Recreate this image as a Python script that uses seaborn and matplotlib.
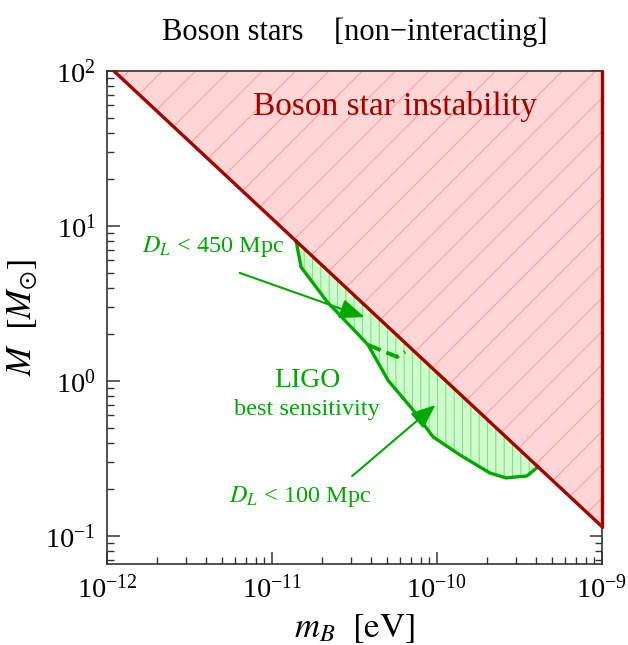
import numpy as np
import pandas as pd
import matplotlib
matplotlib.use('Agg')
import matplotlib.pyplot as plt
import seaborn as sns

# boson star stability boundary (M_max ~ 1/m_B)
line_mB = [1.1e-12, 1e-9]
line_M = [100, 0.115]
region_mB = [1.1e-12, 1e-9, 1e-9]
region_M = [100, 0.115, 100]

# LIGO best-sensitivity contour (D_L < 100 Mpc)
ligo_mB = [1.40e-11, 1.50e-11, 2.16e-11, 3.67e-11, 3.82e-11, 5.05e-11, 7.16e-11,
           9.46e-11, 1.38e-10, 2.09e-10, 2.62e-10, 3.51e-10, 4.09e-10]
ligo_M = [8.0, 5.43, 3.24, 1.79, 1.71, 1.01, 0.65, 0.436, 0.333, 0.255, 0.237, 0.244, 0.279]

# D_L < 450 Mpc dashed piece
dash_mB = [3.82e-11, 5.73e-11, 6.40e-11]
dash_M = [1.71, 1.43, 1.54]

sns.set_theme(style='ticks')
plt.rcParams['font.family'] = ['Liberation Serif', 'DejaVu Serif']
plt.rcParams['mathtext.fontset'] = 'stix'
plt.rcParams['hatch.linewidth'] = 0.8
plt.rcParams['text.color'] = 'black'
plt.rcParams['axes.labelcolor'] = 'black'

red = '#A50000'
green = '#00A800'

fig = plt.figure(figsize=(6.28, 6.45), dpi=100)
ax = fig.add_axes([0.1704, 0.1256, 0.7882, 0.7644])
ax.set_xscale('log')
ax.set_yscale('log')

# instability region
ax.fill(region_mB, region_M, facecolor='#FFD6D6', edgecolor='#FF9E9E', hatch='/', linewidth=0, zorder=1)
# LIGO region
ax.fill(ligo_mB, ligo_M, facecolor='#CCFFCC', edgecolor='#8FD88F', hatch='||', linewidth=0, zorder=1)

df_line = pd.DataFrame({'mB': line_mB, 'M': line_M})
sns.lineplot(data=df_line, x='mB', y='M', color=red, lw=2.4, sort=False, estimator=None, ax=ax, zorder=4)
ax.plot([1e-9, 1e-9], [line_M[1], 100], color=red, lw=2.4, clip_on=False, zorder=4)

df_ligo = pd.DataFrame({'mB': ligo_mB, 'M': ligo_M})
sns.lineplot(data=df_ligo, x='mB', y='M', color=green, lw=2.4, sort=False, estimator=None, ax=ax, zorder=3)
df_dash = pd.DataFrame({'mB': dash_mB, 'M': dash_M})
sns.lineplot(data=df_dash, x='mB', y='M', color=green, lw=2.8, sort=False, estimator=None, ax=ax,
             zorder=3, linestyle=(0, (3.5, 1.6)))

ax.set_xlim(1e-12, 1e-9)
ax.set_ylim(0.066, 100)

ax.text(5.56e-11, 59.4, 'Boson star instability', color=red, fontsize=24, ha='center', va='center')
ax.text(1.63e-11, 1.0, 'LIGO', color=green, fontsize=20, ha='center', va='center')
ax.text(1.63e-11, 0.65, 'best sensitivity', color=green, fontsize=17.5, ha='center', va='center')
ax.text(4.4e-12, 7.4, r'$D_L$ < 450 Mpc', color=green, fontsize=17.5, ha='center', va='center')
ax.text(1.48e-11, 0.179, r'$D_L$ < 100 Mpc', color=green, fontsize=17.5, ha='center', va='center')

arrow = dict(arrowstyle='-|>,head_length=0.5,head_width=0.2', color=green, lw=1.5, mutation_scale=30)
ax.annotate('', xy=(3.77e-11, 2.55), xytext=(6.14e-12, 5.05), arrowprops=arrow, zorder=5)
ax.annotate('', xy=(1.01e-10, 0.72), xytext=(2.97e-11, 0.237), arrowprops=arrow, zorder=5)

ax.set_title('Boson stars    [non\u2212interacting]', fontsize=22, pad=22, color='black')
ax.set_xlabel(r'$m_B\ \ [\mathrm{eV}]$', fontsize=25, labelpad=6)
ax.set_ylabel(r'$M\ \ [M_{\odot}]$', fontsize=25, labelpad=4)

for s in ax.spines.values():
    s.set_color('#333333')
    s.set_linewidth(1.2)
ax.tick_params(which='both', direction='in', top=True, right=True, colors='#333333', labelcolor='black')
ax.tick_params(which='major', length=9, width=1.1, labelsize=20.5, pad=8)
ax.tick_params(which='minor', length=5, width=1.0)
ax.xaxis.set_minor_locator(matplotlib.ticker.LogLocator(base=10, subs=np.arange(2, 10)))
ax.yaxis.set_minor_locator(matplotlib.ticker.LogLocator(base=10, subs=np.arange(2, 10)))
ax.xaxis.set_minor_formatter(matplotlib.ticker.NullFormatter())
ax.yaxis.set_minor_formatter(matplotlib.ticker.NullFormatter())

fig.savefig('out.png', dpi=100)
